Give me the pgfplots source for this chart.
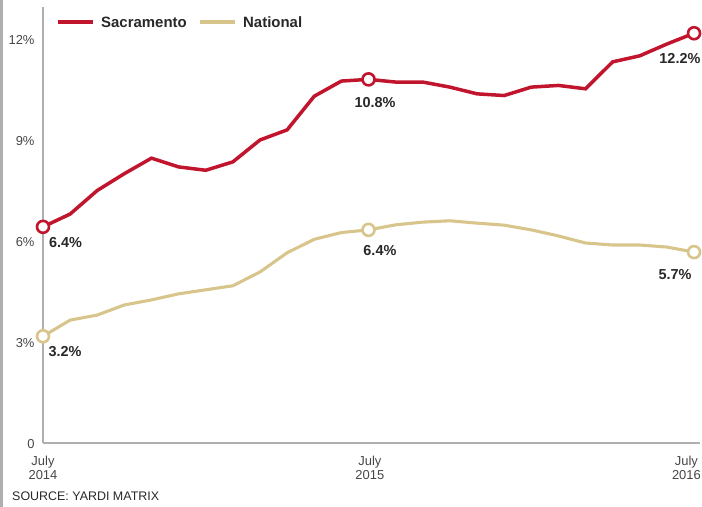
\documentclass[border=0pt]{standalone}
\usepackage{fontspec}
\setmainfont{Liberation Sans}
\usepackage{pgfplots}
\pgfplotsset{compat=1.18}
\definecolor{sac}{RGB}{193,20,45}
\definecolor{nat}{RGB}{216,197,140}
\definecolor{axg}{RGB}{175,175,175}
\definecolor{txt}{RGB}{40,40,40}
\definecolor{tick}{RGB}{70,70,70}
\begin{document}
\begin{tikzpicture}[x=1bp,y=1bp]
\useasboundingbox (0,0) rectangle (702,507);
\fill[axg] (0,0) rectangle (3,507);
\begin{axis}[
  at={(43bp,64bp)}, anchor=south west,
  scale only axis, width=657bp, height=436bp,
  xmin=0, xmax=24.22, ymin=0, ymax=12.95,
  axis x line*=bottom, axis y line*=left,
  axis line style={axg, line width=1.3bp, -},
  tick style={draw=none}, major tick length=0pt,
  ytick={0,3,6,9,12}, yticklabels={0,3\%,6\%,9\%,12\%},
  yticklabel style={font=\fontsize{13}{14}\selectfont, text=tick, xshift=-5bp, yshift=-1bp},
  xtick={0,12.05,23.72}, xticklabels={July\\2014,July\\2015,July\\2016},
  xticklabel style={font=\fontsize{13}{13.5}\selectfont, text=tick, align=center, yshift=-10bp},
  clip=false,
]
\addplot[sac, line width=3.5bp, mark=*, mark indices={1,13,25},
  mark options={fill=white, draw=sac, line width=2.6bp}, mark size=6bp]
coordinates {
(0,6.42) (1,6.8) (2,7.5) (3,8.0) (4,8.46) (5,8.2) (6,8.1) (7,8.35) (8,9.0)
(9,9.3) (10,10.3) (11,10.75) (12,10.8) (13,10.72) (14,10.72) (15,10.57)
(16,10.37) (17,10.32) (18,10.57) (19,10.62) (20,10.52) (21,11.32) (22,11.5)
(23,11.85) (24,12.17)};
\addplot[nat, line width=3.1bp, mark=*, mark indices={1,13,25},
  mark options={fill=white, draw=nat, line width=2.6bp}, mark size=6bp]
coordinates {
(0,3.17) (1,3.65) (2,3.8) (3,4.1) (4,4.25) (5,4.43) (6,4.55) (7,4.67) (8,5.08)
(9,5.65) (10,6.05) (11,6.25) (12,6.33) (13,6.48) (14,6.56) (15,6.6)
(16,6.53) (17,6.47) (18,6.33) (19,6.15) (20,5.94) (21,5.88) (22,5.88)
(23,5.82) (24,5.67)};
\begin{scope}[every node/.style={font=\bfseries\fontsize{14.5}{15}\selectfont, text=txt, inner sep=0pt}]
\node[anchor=west] at (axis cs:0.22,5.95) {6.4\%};
\node at (axis cs:12.24,10.12) {10.8\%};
\node at (axis cs:23.48,11.43) {12.2\%};
\node[anchor=west] at (axis cs:0.2,2.72) {3.2\%};
\node at (axis cs:12.42,5.72) {6.4\%};
\node at (axis cs:23.3,5.0) {5.7\%};
\end{scope}
\end{axis}
\draw[sac, line width=4bp] (58,485) -- (93,485);
\node[anchor=west, inner sep=0pt, font=\bfseries\fontsize{15}{16}\selectfont, text=txt] at (101,485) {Sacramento};
\draw[nat, line width=4bp] (200,485) -- (235,485);
\node[anchor=west, inner sep=0pt, font=\bfseries\fontsize{15}{16}\selectfont, text=txt] at (243,485) {National};
\node[anchor=west, inner sep=0pt, font=\fontsize{12.5}{13.5}\selectfont, text=txt] at (12,11) {SOURCE: YARDI MATRIX};
\end{tikzpicture}
\end{document}
